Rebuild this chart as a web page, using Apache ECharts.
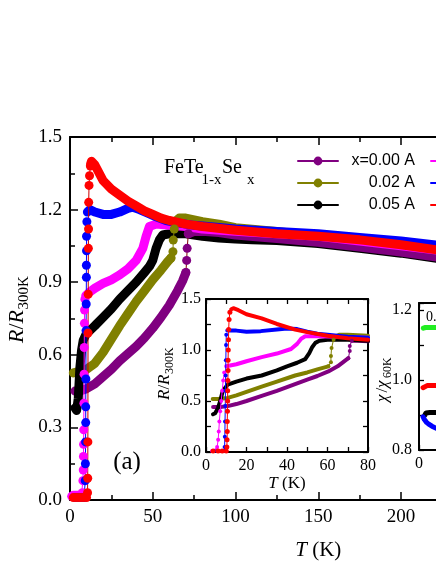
<!DOCTYPE html>
<html>
<head>
<meta charset="utf-8">
<script src="https://cdn.jsdelivr.net/npm/echarts@6.0.0/dist/echarts.min.js"></script>
<style>
  html, body { margin: 0; padding: 0; background: #fff; }
  #chart { width: 436px; height: 564px; }
</style>
</head>
<body>
<div id="chart"></div>
<script>
// legend names / colours
const names = ['x=0.00 A', '0.02 A', '0.05 A', '0.08 A', '0.10 A', '0.15 A'];
const colors = ['#800080', '#808000', '#000000', '#ff00ff', '#0000ff', '#ff0000'];

// main panel: R/R300K vs T
const purpleLow = [[3,0.45],[6,0.45],[10,0.46],[15,0.48],[20,0.51],[25,0.54],[30,0.575],[35,0.605],[40,0.635],[45,0.67],[50,0.71],[55,0.755],[60,0.805],[65,0.865],[68,0.905],[70,0.94]];
const purpleJump = [[70,0.94],[70.5,0.99],[70.8,1.04],[71.5,1.10]];
const purpleHigh = [[71.5,1.10],[75,1.11],[80,1.11],[90,1.105],[100,1.095],[125,1.08],[150,1.065],[175,1.045],[200,1.025],[225,1.0]];

const oliveLow = [[2,0.525],[5,0.53],[8,0.535],[10,0.54],[15,0.565],[20,0.61],[25,0.665],[30,0.72],[35,0.77],[40,0.82],[45,0.865],[50,0.91],[55,0.95],[59,0.985],[61,1.0]];
const oliveJump = [[61,1.0],[62.2,1.026],[62.4,1.074],[63,1.12]];
const oliveHigh = [[63.5,1.15],[66,1.165],[70,1.165],[80,1.15],[90,1.14],[100,1.125],[125,1.11],[150,1.09],[175,1.07],[200,1.05],[225,1.03]];

const blackMain = [[3,0.38],[4,0.37],[5,0.42],[6,0.55],[7,0.62],[8,0.66],[10,0.69],[12,0.70],[15,0.72],[20,0.755],[25,0.79],[30,0.83],[35,0.865],[40,0.9],[45,0.94],[48,0.965],[50,0.99],[52,1.04],[54,1.075],[56,1.095],[60,1.10],[70,1.10],[80,1.09],[90,1.083],[100,1.078],[110,1.075],[125,1.072],[150,1.06],[175,1.04],[200,1.02],[225,0.995]];

const magentaTc = [[1,0.015],[2,0.02],[3,0.02],[4,0.02],[5,0.02],[6,0.02],[7,0.025],[7.5,0.03],[7.8,0.08],[8,0.124],[8.1,0.18],[8.2,0.23],[8.3,0.29],[8.4,0.40],[8.5,0.52],[8.6,0.63],[8.7,0.73],[8.8,0.785],[9,0.83]];
const magentaBand = [[9.5,0.845],[12,0.86],[15,0.875],[20,0.895],[25,0.91],[30,0.93],[35,0.955],[40,0.99],[44,1.04],[46,1.09],[48,1.13],[52,1.14],[60,1.135],[70,1.13],[80,1.12],[100,1.11],[125,1.1],[150,1.09],[200,1.05],[225,1.03]];

const blueTc = [[3,0.01],[5,0.01],[7,0.01],[8.5,0.01],[9.2,0.08],[9.3,0.15],[9.4,0.24],[9.5,0.32],[9.5,0.385],[9.6,0.5],[9.7,0.70],[9.8,0.81],[9.9,0.92],[9.9,0.97],[10,1.03],[10,1.09],[10.2,1.15]];
const blueBand = [[10.5,1.19],[12,1.2],[15,1.19],[20,1.18],[25,1.18],[30,1.19],[35,1.205],[38,1.21],[42,1.2],[47,1.185],[52,1.17],[58,1.155],[65,1.145],[75,1.135],[100,1.12],[125,1.11],[150,1.10],[175,1.085],[200,1.07],[225,1.05]];

const redTc = [[2,0.01],[4,0.01],[6,0.01],[8,0.01],[10,0.01],[10.6,0.03],[10.7,0.09],[10.8,0.24],[10.9,0.69],[11,0.85],[11.1,1.04],[11.2,1.12],[11.3,1.23],[11.5,1.30],[11.8,1.34],[12.3,1.38]];
const redBand = [[12.5,1.39],[13,1.40],[15,1.385],[20,1.32],[25,1.285],[30,1.26],[35,1.235],[40,1.215],[45,1.195],[50,1.18],[55,1.165],[60,1.155],[70,1.14],[80,1.13],[100,1.115],[125,1.10],[150,1.09],[175,1.075],[200,1.055],[225,1.03]];

// inset 1: low temperature R/R300K
const purpleInLow = [[3.5,0.44],[7,0.44],[10.7,0.45],[15,0.47],[20,0.5],[27.5,0.55],[35,0.6],[44,0.665],[50,0.71],[55,0.745],[60.4,0.79],[65,0.84],[70.3,0.92]];
const purpleInJump = [[70.3,0.92],[71,0.99],[71,1.04],[72,1.09]];
const purpleInHigh = [[72,1.09],[75,1.09],[80,1.085]];
const oliveInLow = [[3.3,0.52],[6,0.52],[10.7,0.53],[15,0.555],[20,0.59],[27.5,0.64],[35,0.69],[44,0.75],[50,0.78],[55,0.81],[60.4,0.84]];
const oliveInJump = [[60.4,0.84],[61.7,0.88],[61.7,0.94],[62,1.02],[63,1.1]];
const oliveInHigh = [[63.6,1.13],[66,1.15],[70,1.15],[80,1.14]];
const blackIn = [[3.5,0.37],[4.5,0.38],[5.9,0.43],[7,0.5],[8.3,0.6],[10.7,0.66],[15,0.69],[20,0.72],[27.5,0.75],[35,0.8],[40,0.84],[45,0.875],[49,0.91],[51,0.97],[52.5,1.03],[54,1.07],[56,1.09],[60,1.1],[70,1.1],[80,1.09]];
const magentaInTc = [[3,0.01],[5,0.02],[5.5,0.05],[6,0.12],[6.3,0.2],[6.6,0.3],[7,0.4],[7.5,0.5],[8,0.6],[8.5,0.7],[9,0.78]];
const magentaInBand = [[10,0.84],[15,0.86],[20,0.89],[27.5,0.93],[35,0.965],[42,1.01],[45,1.06],[47,1.11],[49,1.135],[55,1.135],[65,1.13],[80,1.12]];
const blueInTc = [[4,0.01],[6,0.01],[8,0.01],[9,0.01],[9.2,0.05],[9.3,0.15],[9.4,0.3],[9.5,0.45],[9.6,0.6],[9.7,0.75],[9.8,0.9],[9.9,1.05],[10,1.15]];
const blueInBand = [[10.5,1.19],[15,1.19],[20,1.18],[27,1.185],[35,1.2],[40,1.21],[45,1.205],[50,1.18],[55,1.16],[60,1.15],[70,1.13],[80,1.12]];
const redInTc = [[3.5,0.01],[6,0.01],[8,0.01],[10,0.01],[10.3,0.05],[10.4,0.12],[10.5,0.2],[10.5,0.3],[10.6,0.4],[10.7,0.5],[10.7,0.6],[10.8,0.7],[10.9,0.8],[10.9,0.9],[11,1.0],[11.1,1.1],[11.2,1.2],[11.4,1.3],[11.8,1.37]];
const redInBand = [[12.5,1.40],[13.5,1.41],[16,1.39],[20,1.35],[27.5,1.31],[35,1.255],[44,1.20],[50,1.175],[60,1.14],[70,1.115],[80,1.10]];

// inset 2: chi/chi60K (only the left edge is in view)
const greenChi = [[8,1.148],[12,1.15],[18,1.15],[25,1.15],[32,1.15]];
const redChi = [[7.5,0.978],[10,0.982],[15,0.984],[22,0.984],[32,0.984]];
const blackChi = [[11,0.9],[13,0.906],[20,0.907],[32,0.907]];
const blueChi = [[7.5,0.895],[10,0.887],[14,0.879],[18,0.874],[24,0.868],[32,0.862]];

const SERIF = 'Liberation Serif';

// thick line standing in for the densely packed markers
function band(name, color, data, xi, yi, w) {
  return {
    name: name, type: 'line', xAxisIndex: xi, yAxisIndex: yi, data: data,
    symbol: 'circle', symbolSize: w, showSymbol: false,
    itemStyle: { color: color, borderWidth: 0 },
    lineStyle: { color: color, width: w, cap: 'round', join: 'round' },
    silent: true, animation: false
  };
}
// separated points (transitions) joined by a thin line
function dots(name, color, data, xi, yi, size, lineColor) {
  return {
    name: name, type: 'line', xAxisIndex: xi, yAxisIndex: yi, data: data,
    symbol: 'circle', symbolSize: size, showSymbol: true,
    itemStyle: { color: color, borderWidth: 0 },
    lineStyle: { color: lineColor || color, width: 1 },
    silent: true, animation: false, z: 3
  };
}

function xAx(grid, pos, min, max, interval, opts) {
  return Object.assign({
    type: 'value', gridIndex: grid, position: pos, min: min, max: max, interval: interval,
    axisLine: { show: true, onZero: false, lineStyle: { color: '#000', width: 2 } },
    axisTick: { show: true, inside: true, length: 7, lineStyle: { color: '#000', width: 1.5 } },
    minorTick: { show: true, splitNumber: 2, length: 5, lineStyle: { color: '#000', width: 1.5 } },
    splitLine: { show: false }, minorSplitLine: { show: false },
    axisLabel: { show: false }
  }, opts || {});
}
const yAx = xAx;

const rFmt = v => v.toFixed(1);

const option = {
  backgroundColor: '#fff',
  animation: false,
  grid: [
    { left: 70, top: 137, width: 496.5, height: 363, outerBoundsMode: 'none' },
    { left: 206, top: 299, width: 162, height: 153, outerBoundsMode: 'none' },
    { left: 419, top: 303, width: 162, height: 147, outerBoundsMode: 'none' }
  ],
  xAxis: [
    xAx(0, 'bottom', 0, 300, 50, {
      axisTick: { show: true, inside: true, length: 8, lineStyle: { color: '#000', width: 1.5 } },
      axisLabel: { show: true, color: '#000', fontFamily: SERIF, fontSize: 19, margin: 8 },
      name: '{i|T} (K)', nameLocation: 'middle', nameGap: 40,
      nameTextStyle: { color: '#000', fontFamily: SERIF, fontSize: 21,
        rich: { i: { fontStyle: 'italic', fontFamily: SERIF, fontSize: 21, color: '#000' } } }
    }),
    xAx(0, 'top', 0, 300, 50, {
      axisTick: { show: true, inside: true, length: 8, lineStyle: { color: '#000', width: 1.5 } }
    }),
    xAx(1, 'bottom', 0, 80, 20, {
      axisTick: { show: true, inside: true, length: 5, lineStyle: { color: '#000', width: 1.3 } },
      minorTick: { show: true, splitNumber: 2, length: 5, lineStyle: { color: '#000', width: 1.3 } },
      axisLabel: { show: true, color: '#000', fontFamily: SERIF, fontSize: 16, margin: 6 },
      name: '{i|T} (K)', nameLocation: 'middle', nameGap: 22,
      nameTextStyle: { color: '#000', fontFamily: SERIF, fontSize: 17,
        rich: { i: { fontStyle: 'italic', fontFamily: SERIF, fontSize: 17, color: '#000' } } }
    }),
    xAx(1, 'top', 0, 80, 20, {
      axisTick: { show: true, inside: true, length: 5, lineStyle: { color: '#000', width: 1.3 } },
      minorTick: { show: true, splitNumber: 2, length: 5, lineStyle: { color: '#000', width: 1.3 } }
    }),
    xAx(2, 'bottom', 0, 300, 100, {
      axisTick: { show: true, inside: true, length: 5, lineStyle: { color: '#000', width: 1.3 } },
      minorTick: { show: false },
      axisLabel: { show: true, color: '#000', fontFamily: SERIF, fontSize: 16, margin: 6 }
    }),
    xAx(2, 'top', 0, 300, 100, {
      axisTick: { show: true, inside: true, length: 5, lineStyle: { color: '#000', width: 1.3 } },
      minorTick: { show: false }
    })
  ],
  yAxis: [
    yAx(0, 'left', 0, 1.5, 0.3, {
      axisTick: { show: true, inside: true, length: 8, lineStyle: { color: '#000', width: 1.5 } },
      axisLabel: { show: true, color: '#000', fontFamily: SERIF, fontSize: 19, margin: 8, formatter: rFmt }
    }),
    yAx(1, 'left', 0, 1.5, 0.5, {
      axisTick: { show: true, inside: true, length: 5, lineStyle: { color: '#000', width: 1.3 } },
      minorTick: { show: true, splitNumber: 2, length: 5, lineStyle: { color: '#000', width: 1.3 } },
      axisLabel: { show: true, color: '#000', fontFamily: SERIF, fontSize: 16, margin: 5, formatter: rFmt }
    }),
    yAx(1, 'right', 0, 1.5, 0.5, {
      axisTick: { show: true, inside: true, length: 5, lineStyle: { color: '#000', width: 1.3 } },
      minorTick: { show: true, splitNumber: 2, length: 5, lineStyle: { color: '#000', width: 1.3 } }
    }),
    yAx(2, 'left', 0.8, 1.22, 0.1, {
      axisTick: { show: true, inside: true, length: 5, lineStyle: { color: '#000', width: 1.3 } },
      minorTick: { show: false },
      axisLabel: { show: true, color: '#000', fontFamily: SERIF, fontSize: 16, margin: 7,
        formatter: v => ([0.8, 1.0, 1.2].some(t => Math.abs(t - v) < 1e-6) ? v.toFixed(1) : '') }
    })
  ],
  legend: [
    {
      data: names.slice(0, 3), orient: 'vertical', left: 297, top: 153, padding: 0,
      itemWidth: 40, itemHeight: 11, itemGap: 6, selectedMode: false,
      lineStyle: { width: 2 },
      formatter: n => '{r|' + n + '}',
      textStyle: { color: '#000', fontFamily: 'Liberation Sans', fontSize: 16,
        rich: { r: { width: 72, align: 'right', color: '#000', fontFamily: 'Liberation Sans', fontSize: 16 } } }
    },
    {
      data: names.slice(3), orient: 'vertical', left: 430, top: 153, padding: 0,
      itemWidth: 40, itemHeight: 11, itemGap: 6, selectedMode: false,
      lineStyle: { width: 2 },
      textStyle: { color: '#000', fontFamily: 'Liberation Sans', fontSize: 16 }
    }
  ],
  graphic: [
    // FeTe1-xSex
    { type: 'text', x: 164, y: 168, silent: true, style: { text: 'FeTe', fill: '#000', font: '20px "Liberation Serif"', verticalAlign: 'middle', textVerticalAlign: 'middle' } },
    { type: 'text', x: 201.5, y: 180, silent: true, style: { text: '1-x', fill: '#000', font: '15px "Liberation Serif"', verticalAlign: 'middle', textVerticalAlign: 'middle' } },
    { type: 'text', x: 222, y: 168, silent: true, style: { text: 'Se', fill: '#000', font: '20px "Liberation Serif"', verticalAlign: 'middle', textVerticalAlign: 'middle' } },
    { type: 'text', x: 247, y: 180, silent: true, style: { text: 'x', fill: '#000', font: '15px "Liberation Serif"', verticalAlign: 'middle', textVerticalAlign: 'middle' } },
    // (a)
    { type: 'text', x: 127, y: 462, silent: true, style: { text: '(a)', fill: '#000', font: '25px "Liberation Serif"', align: 'center', textAlign: 'center', verticalAlign: 'middle', textVerticalAlign: 'middle' } },
    // main y title R/R300K
    { type: 'group', x: 17.5, y: 343, rotation: Math.PI / 2, silent: true, children: [
      { type: 'text', x: 0, y: 0, style: { text: 'R', fill: '#000', font: 'italic 22px "Liberation Serif"', verticalAlign: 'middle', textVerticalAlign: 'middle' } },
      { type: 'text', x: 13.4, y: 0, style: { text: '/', fill: '#000', font: '22px "Liberation Serif"', verticalAlign: 'middle', textVerticalAlign: 'middle' } },
      { type: 'text', x: 19.5, y: 0, style: { text: 'R', fill: '#000', font: 'italic 22px "Liberation Serif"', verticalAlign: 'middle', textVerticalAlign: 'middle' } },
      { type: 'text', x: 33.5, y: 7, style: { text: '300K', fill: '#000', font: '15px "Liberation Serif"', verticalAlign: 'middle', textVerticalAlign: 'middle' } }
    ] },
    // inset 1 y title
    { type: 'group', x: 164.5, y: 400, rotation: Math.PI / 2, silent: true, children: [
      { type: 'text', x: 0, y: 0, style: { text: 'R', fill: '#000', font: 'italic 17px "Liberation Serif"', verticalAlign: 'middle', textVerticalAlign: 'middle' } },
      { type: 'text', x: 10.4, y: 0, style: { text: '/', fill: '#000', font: '17px "Liberation Serif"', verticalAlign: 'middle', textVerticalAlign: 'middle' } },
      { type: 'text', x: 15.1, y: 0, style: { text: 'R', fill: '#000', font: 'italic 17px "Liberation Serif"', verticalAlign: 'middle', textVerticalAlign: 'middle' } },
      { type: 'text', x: 26, y: 5, style: { text: '300K', fill: '#000', font: '12px "Liberation Serif"', verticalAlign: 'middle', textVerticalAlign: 'middle' } }
    ] },
    // inset 2 y title
    { type: 'group', x: 383, y: 402, rotation: Math.PI / 2, silent: true, children: [
      { type: 'text', x: 0, y: 0, style: { text: 'χ', fill: '#000', font: 'italic 17px "Liberation Serif"', verticalAlign: 'middle', textVerticalAlign: 'middle' } },
      { type: 'text', x: 9.4, y: 0, style: { text: '/', fill: '#000', font: '17px "Liberation Serif"', verticalAlign: 'middle', textVerticalAlign: 'middle' } },
      { type: 'text', x: 14.1, y: 0, style: { text: 'χ', fill: '#000', font: 'italic 17px "Liberation Serif"', verticalAlign: 'middle', textVerticalAlign: 'middle' } },
      { type: 'text', x: 24, y: 5, style: { text: '60K', fill: '#000', font: '12px "Liberation Serif"', verticalAlign: 'middle', textVerticalAlign: 'middle' } }
    ] },
    { type: 'text', x: 426, y: 317, silent: true, style: { text: '0.', fill: '#000', font: '14px "Liberation Serif"', verticalAlign: 'middle', textVerticalAlign: 'middle' } }
  ],
  series: [
    // main panel bands (purple high-T band drawn over black, as in the figure)
    band(names[0], colors[0], purpleLow, 0, 0, 9),
    band(names[1], colors[1], oliveLow, 0, 0, 9),
    band(names[1], colors[1], oliveHigh, 0, 0, 9),
    band(names[2], colors[2], blackMain, 0, 0, 9),
    band(names[0], colors[0], purpleHigh, 0, 0, 9),
    band(names[3], colors[3], magentaBand, 0, 0, 9),
    band(names[4], colors[4], blueBand, 0, 0, 9),
    band(names[5], colors[5], redBand, 0, 0, 9),
    // main panel transitions
    dots(names[0], colors[0], purpleJump, 0, 0, 9, '#800000'),
    dots(names[1], colors[1], oliveJump, 0, 0, 9),
    dots(names[3], colors[3], magentaTc, 0, 0, 9),
    dots(names[4], colors[4], blueTc, 0, 0, 9),
    dots(names[5], colors[5], redTc, 0, 0, 9, '#cc0000'),
    // inset 1
    band(names[0], colors[0], purpleInLow, 2, 1, 4),
    band(names[0], colors[0], purpleInHigh, 2, 1, 4),
    band(names[1], colors[1], oliveInLow, 2, 1, 4),
    band(names[1], colors[1], oliveInHigh, 2, 1, 4),
    band(names[2], colors[2], blackIn, 2, 1, 4),
    band(names[3], colors[3], magentaInBand, 2, 1, 4),
    band(names[4], colors[4], blueInBand, 2, 1, 4),
    band(names[5], colors[5], redInBand, 2, 1, 4),
    dots(names[0], colors[0], purpleInJump, 2, 1, 4),
    dots(names[1], colors[1], oliveInJump, 2, 1, 4),
    dots(names[3], colors[3], magentaInTc, 2, 1, 4),
    dots(names[4], colors[4], blueInTc, 2, 1, 4),
    dots(names[5], colors[5], redInTc, 2, 1, 5),
    // inset 2
    band('chi green', '#22ee22', greenChi, 4, 3, 5),
    band('chi red', '#ff0000', redChi, 4, 3, 5),
    band('chi black', '#000000', blackChi, 4, 3, 5),
    band('chi blue', '#0000ff', blueChi, 4, 3, 5)
  ]
};

const chart = echarts.init(document.getElementById('chart'), null, { renderer: 'canvas' });
chart.setOption(option);
</script>
</body>
</html>
